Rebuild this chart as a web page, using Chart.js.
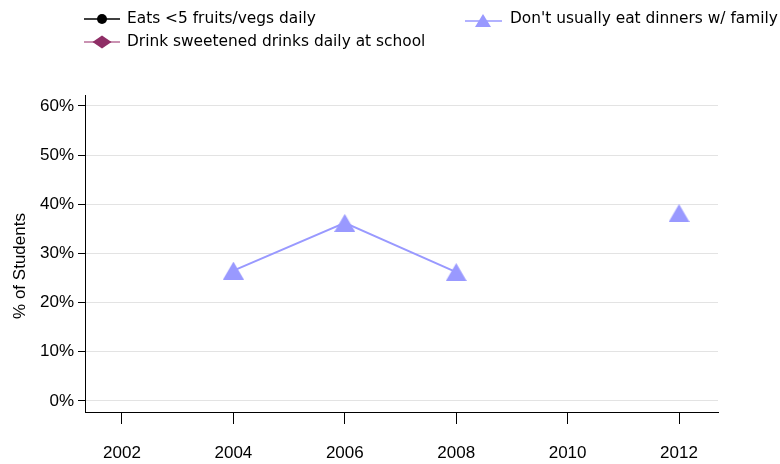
<!DOCTYPE html>
<html>
<head>
<meta charset="utf-8">
<script src="https://cdn.jsdelivr.net/npm/chart.js@4.4.1/dist/chart.umd.min.js"></script>
<style>
  html, body { margin: 0; padding: 0; background: #ffffff; }
  #wrap { position: relative; width: 780px; height: 464px; }
</style>
</head>
<body>
<div id="wrap"><canvas id="c" width="780" height="464"></canvas></div>
<script>
// ---- data ----
const years = [2002, 2004, 2006, 2008, 2010, 2012];
const seriesNames = ["Eats <5 fruits/vegs daily", "Drink sweetened drinks daily at school", "Don't usually eat dinners w/ family"];
const fruitsVegs = [null, null, null, null, null, null];
const sweetDrinks = [null, null, null, null, null, null];
const noFamilyDinner = [null, 26.5, 36.2, 26.2, null, 38.2];
const yTicks = [0, 10, 20, 30, 40, 50, 60];
const xTicks = [2002, 2004, 2006, 2008, 2010, 2012];
const yTitle = '% of Students';

const toPoints = arr => years.map((y, i) => ({ x: y, y: arr[i] }));

// triangle marker centred on its bounding box
function triangleImage(w, h, color) {
  const cv = document.createElement('canvas');
  cv.width = w; cv.height = h;
  const g = cv.getContext('2d');
  g.fillStyle = color;
  g.beginPath();
  g.moveTo(w / 2, 0);
  g.lineTo(w, h);
  g.lineTo(0, h);
  g.closePath();
  g.fill();
  return cv;
}
const triMarker = triangleImage(21, 18, '#9999ff');

const legendPlugin = {
  id: 'customLegend',
  afterDraw(chart) {
    const ctx = chart.ctx;
    ctx.save();
    ctx.font = '15.4px "DejaVu Sans", Verdana, sans-serif';
    ctx.textBaseline = 'middle';
    // item 1
    ctx.strokeStyle = '#000'; ctx.lineWidth = 1.5;
    ctx.beginPath(); ctx.moveTo(84, 19); ctx.lineTo(120, 19); ctx.stroke();
    ctx.beginPath(); ctx.arc(102, 19, 5, 0, Math.PI * 2); ctx.fillStyle = '#000'; ctx.fill();
    ctx.fillStyle = '#000'; ctx.fillText(seriesNames[0], 127, 19);
    // item 2
    ctx.strokeStyle = '#b86e98'; ctx.lineWidth = 1.5;
    ctx.beginPath(); ctx.moveTo(84, 42); ctx.lineTo(120, 42); ctx.stroke();
    ctx.fillStyle = '#8f2e66';
    ctx.beginPath(); ctx.moveTo(102, 35.5); ctx.lineTo(111.5, 42); ctx.lineTo(102, 48.5); ctx.lineTo(92.5, 42); ctx.closePath(); ctx.fill();
    ctx.fillStyle = '#000'; ctx.fillText(seriesNames[1], 127, 42);
    // item 3
    ctx.strokeStyle = '#9999ff'; ctx.lineWidth = 1.5;
    ctx.beginPath(); ctx.moveTo(465, 21); ctx.lineTo(502, 21); ctx.stroke();
    ctx.fillStyle = '#9999ff';
    ctx.beginPath(); ctx.moveTo(483, 14); ctx.lineTo(491, 27); ctx.lineTo(475, 27); ctx.closePath(); ctx.fill();
    ctx.fillStyle = '#000'; ctx.fillText(seriesNames[2], 510, 19);
    // y-axis title
    ctx.font = '17px "Liberation Sans", Arial, sans-serif';
    ctx.textAlign = 'center';
    ctx.translate(20, 266);
    ctx.rotate(-Math.PI / 2);
    ctx.fillText(yTitle, 0, 0);
    ctx.restore();
  }
};

const tickFont = { family: '"Liberation Sans", Arial, sans-serif', size: 17 };

new Chart(document.getElementById('c'), {
  type: 'line',
  data: {
    datasets: [
      { label: seriesNames[0], data: toPoints(fruitsVegs), borderColor: '#000', backgroundColor: '#000',
        pointStyle: 'circle', pointRadius: 5, borderWidth: 2, spanGaps: false },
      { label: seriesNames[1], data: toPoints(sweetDrinks), borderColor: '#b86e98', backgroundColor: '#8f2e66',
        pointStyle: 'rectRot', pointRadius: 8, borderWidth: 2, spanGaps: false },
      { label: seriesNames[2], data: toPoints(noFamilyDinner), borderColor: '#9999ff', backgroundColor: '#9999ff',
        pointStyle: triMarker, pointRadius: 11, borderWidth: 2, spanGaps: false }
    ]
  },
  options: {
    responsive: false,
    animation: false,
    events: [],
    layout: { padding: { top: 95, right: 62, left: 0, bottom: 0 } },
    plugins: { legend: { display: false }, tooltip: { enabled: false } },
    scales: {
      x: {
        type: 'linear',
        min: 2001.336,
        max: 2012.70,
        afterBuildTicks: s => { s.ticks = xTicks.map(v => ({ value: v })); },
        afterFit: s => { s.height = 52; },
        border: { display: true, color: '#000', width: 1 },
        grid: { display: true, drawOnChartArea: false, drawTicks: true, tickLength: 12, tickColor: '#000', tickWidth: 1 },
        ticks: { font: tickFont, color: '#000', padding: 19, maxRotation: 0, autoSkip: false,
          callback: v => String(v) }
      },
      y: {
        type: 'linear',
        min: -2.24,
        max: 62.2,
        afterBuildTicks: s => { s.ticks = yTicks.map(v => ({ value: v })); },
        afterFit: s => { s.width = 85; },
        border: { display: true, color: '#000', width: 1 },
        grid: { display: true, drawOnChartArea: true, color: '#e3e3e3', lineWidth: 1, drawTicks: true,
          tickLength: 7, tickColor: '#000', tickWidth: 1 },
        ticks: { font: tickFont, color: '#000', padding: 4, autoSkip: false, callback: v => v + '%' },
        title: { display: false }
      }
    }
  },
  plugins: [legendPlugin]
});
</script>
</body>
</html>
